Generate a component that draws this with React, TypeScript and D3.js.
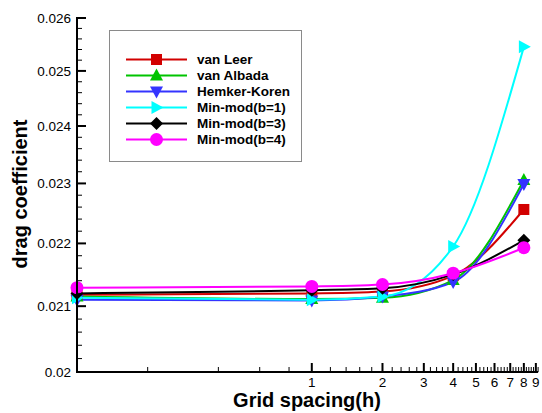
import React from "react";
import * as d3 from "d3";

const xValues = [0.1, 1, 2, 4, 8];
const seriesNames = ["van Leer", "van Albada", "Hemker-Koren", "Min-mod(b=1)", "Min-mod(b=3)", "Min-mod(b=4)"];
const vanLeer = [0.02118, 0.0212, 0.02123, 0.02148, 0.02256];
const vanAlbada = [0.02115, 0.02111, 0.02113, 0.02141, 0.02306];
const hemkerKoren = [0.0211, 0.02109, 0.02115, 0.02138, 0.02299];
const minmod1 = [0.02113, 0.0211, 0.02115, 0.02195, 0.02545];
const minmod3 = [0.0212, 0.02125, 0.02128, 0.0215, 0.02205];
const minmod4 = [0.02129, 0.02131, 0.02134, 0.02152, 0.02193];
const yTicks = [0.02, 0.021, 0.022, 0.023, 0.024, 0.025, 0.026];
const xTickLabels = [1, 2, 3, 4, 5, 6, 7, 8, 9];

const colors = ["#d20000", "#00c400", "#3434ff", "#00ffff", "#000000", "#ff00ff"];
const markers = ["square", "triUp", "triDown", "triRight", "diamond", "circle"];
const allSeries = [vanLeer, vanAlbada, hemkerKoren, minmod1, minmod3, minmod4];

function Marker({ type, x, y, color }: { type: string; x: number; y: number; color: string }) {
  const s = 6;
  switch (type) {
    case "square":
      return <rect x={x - 5.5} y={y - 5.5} width={11} height={11} fill={color} />;
    case "triUp":
      return <path d={`M${x},${y - s - 1} L${x + s + 0.5},${y + s - 1} L${x - s - 0.5},${y + s - 1} Z`} fill={color} />;
    case "triDown":
      return <path d={`M${x},${y + s + 1} L${x + s + 0.5},${y - s + 1} L${x - s - 0.5},${y - s + 1} Z`} fill={color} />;
    case "triRight":
      return <path d={`M${x + s + 1},${y} L${x - s + 1},${y - s - 0.5} L${x - s + 1},${y + s + 0.5} Z`} fill={color} />;
    case "diamond":
      return <path d={`M${x},${y - s - 0.5} L${x + s + 0.5},${y} L${x},${y + s + 0.5} L${x - s - 0.5},${y} Z`} fill={color} />;
    default:
      return <circle cx={x} cy={y} r={6.5} fill={color} />;
  }
}

export default function App() {
  const x0 = 77;
  const pxPerDecade = 234.8;
  const xMax = 9.2;
  const x = d3.scaleLog().domain([0.1, xMax]).range([x0, x0 + pxPerDecade * Math.log10(xMax / 0.1)]);
  const y = d3.scaleLog().domain([0.02, 0.026]).range([372, 18]);

  const line = d3
    .line<number>()
    .x((_, i) => x(xValues[i]))
    .y((d) => y(d))
    .curve(d3.curveMonotoneX);

  const xMinor: number[] = [];
  for (const v of [0.2, 0.4, 0.6, 0.8]) xMinor.push(v);
  for (let k = 1; k <= 46; k++) {
    const v = +(k * 0.2).toFixed(1);
    if (v > 1 && v <= xMax && Math.abs(v - Math.round(v)) > 1e-6) xMinor.push(v);
  }
  const yMinor: number[] = [];
  for (let k = 0; k <= 30; k++) {
    const v = +(0.02 + k * 0.0002).toFixed(4);
    if (k % 5 !== 0) yMinor.push(v);
  }

  const font = "Arial, 'Liberation Sans', sans-serif";
  const legendRows = seriesNames.map((n, i) => ({ n, i, yy: 59.5 + i * 16 }));

  return (
    <svg width={542} height={413} style={{ position: "absolute", left: 0, top: 0, background: "#fff" }}>
      {allSeries.map((s, i) => (
        <path key={"l" + i} d={line(s) || ""} fill="none" stroke={colors[i]} strokeWidth={2} />
      ))}
      {allSeries.map((s, i) =>
        s.map((v, j) => <Marker key={"m" + i + "-" + j} type={markers[i]} x={x(xValues[j])} y={y(v)} color={colors[i]} />)
      )}

      <line x1={x0} x2={x0} y1={17} y2={373} stroke="#000" strokeWidth={2} />
      <line x1={x0 - 1} x2={x.range()[1]} y1={372} y2={372} stroke="#000" strokeWidth={2} />
      {yTicks.map((t) => (
        <g key={"yt" + t}>
          <line x1={x0} x2={x0 + 9} y1={y(t)} y2={y(t)} stroke="#000" strokeWidth={2} />
          <text x={71} y={y(t) + 4.8} textAnchor="end" fontSize={13.5} fontFamily={font} fill="#000">
            {String(t)}
          </text>
        </g>
      ))}
      {yMinor.map((t) => (
        <line key={"ym" + t} x1={x0} x2={x0 + 5} y1={y(t)} y2={y(t)} stroke="#000" strokeWidth={1} />
      ))}
      {xTickLabels.map((t) => (
        <g key={"xt" + t}>
          <line x1={x(t)} x2={x(t)} y1={372} y2={363} stroke="#000" strokeWidth={2} />
          <text x={x(t)} y={387} textAnchor="middle" fontSize={13.5} fontFamily={font} fill="#000">
            {t}
          </text>
        </g>
      ))}
      {xMinor.map((t) => (
        <line key={"xm" + t} x1={x(t)} x2={x(t)} y1={372} y2={367} stroke="#000" strokeWidth={1} />
      ))}

      <text x={307} y={407} textAnchor="middle" fontSize={20} fontWeight="bold" fontFamily={font} fill="#000">
        Grid spacing(h)
      </text>
      <text
        transform="translate(27,194) rotate(-90)"
        textAnchor="middle"
        fontSize={20}
        fontWeight="bold"
        fontFamily={font}
        fill="#000"
      >
        drag coefficient
      </text>

      <rect x={109.5} y={30.5} width={192} height={131} fill="#fff" stroke="#8a8a8a" strokeWidth={1} />
      {legendRows.map(({ n, i, yy }) => (
        <g key={"lg" + i}>
          <line x1={126} x2={187} y1={yy} y2={yy} stroke={colors[i]} strokeWidth={2} />
          <Marker type={markers[i]} x={156.5} y={yy} color={colors[i]} />
          <text x={197} y={yy + 4.8} fontSize={13.5} fontWeight="bold" fontFamily={font} fill="#000">
            {n}
          </text>
        </g>
      ))}
    </svg>
  );
}
